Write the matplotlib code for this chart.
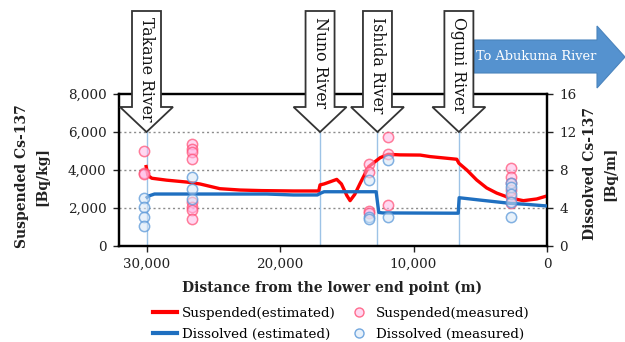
import matplotlib
matplotlib.use("Agg")
import matplotlib.pyplot as plt
from matplotlib.patches import Polygon
from matplotlib.lines import Line2D
import numpy as np

# ---------------- data ----------------
# Suspended Cs-137 estimated (distance m, Bq/kg)
susp_est_x = [30050, 29900, 29600, 28500, 27000, 26000, 25400, 24500, 23000, 21400, 19000, 17100,
              17000, 16700, 16300, 15750, 15400, 15000, 14750, 14400, 14000, 13360, 12500, 11900,
              11000, 9500, 8760, 6760, 6600, 6000, 5270, 4520, 3770, 2770, 1770, 770, 0]
susp_est_y = [4250, 3700, 3550, 3450, 3350, 3250, 3150, 3000, 2930, 2900, 2880, 2880,
              3200, 3250, 3350, 3490, 3250, 2650, 2370, 2700, 3280, 4160, 4630, 4810,
              4780, 4770, 4690, 4550, 4340, 3980, 3460, 3040, 2770, 2510, 2370, 2460, 2620]

# Dissolved Cs-137 estimated (distance m, right-axis units)
diss_est_x = [30050, 29800, 29400, 26500, 21000, 19000, 17200, 17000, 16700, 12800, 12600, 12300,
              6650, 6580, 5000, 2770, 1500, 0]
diss_est_y = [4.98, 5.25, 5.44, 5.44, 5.44, 5.34, 5.34, 5.5, 5.68, 5.68, 3.5, 3.45,
              3.42, 5.05, 4.8, 4.46, 4.35, 4.18]

# measured values
susp_meas_x = [30200, 30200, 30200,
               26570, 26570, 26570, 26570, 26570, 26570, 26570, 26570,
               13360, 13360, 13360, 13360,
               11900, 11900, 11900,
               2700, 2700, 2700, 2700, 2700, 2700]
susp_meas_y = [5000, 3850, 3750,
               5340, 5090, 4910, 4560, 2320, 2020, 1880, 1390,
               4320, 3900, 1840, 1700,
               5700, 4810, 2140,
               4070, 3630, 3280, 2930, 2580, 2230]

diss_meas_x = [30200, 30200, 30200, 30200,
               26570, 26570, 26570,
               13360, 13360, 13360,
               11900, 11900,
               2700, 2700, 2700, 2700, 2700]
diss_meas_y = [4.98, 4.04, 3.02, 2.08,
               7.2, 6.0, 4.9,
               6.9, 3.0, 2.8,
               9.0, 3.0,
               6.6, 6.2, 5.4, 4.6, 3.0]

tributaries = ["Takane River", "Nuno River", "Ishida River", "Oguni River"]
trib_x = [30000, 17000, 12700, 6600]

left_ticks = [0, 2000, 4000, 6000, 8000]
left_ticklabels = ["0", "2,000", "4,000", "6,000", "8,000"]
right_ticks = [0, 4, 8, 12, 16]
x_ticks = [30000, 20000, 10000, 0]
x_ticklabels = ["30,000", "20,000", "10,000", "0"]

# ---------------- figure ----------------
SERIF = "DejaVu Serif"
plt.rcParams['font.family'] = SERIF
W, H = 625, 342
fig = plt.figure(figsize=(W / 100, H / 100), dpi=100)

x0, x1 = 119, 547
y_top, y_bot = 93.7, 245.7
ax = fig.add_axes([x0 / W, 1 - y_bot / H, (x1 - x0) / W, (y_bot - y_top) / H])
ax2 = ax.twinx()

ax.set_xlim(32060, 0)
ax.set_ylim(0, 8000)
ax2.set_ylim(0, 16)

for s in ax.spines.values():
    s.set_linewidth(1.6)
    s.set_color("black")
for s in ax2.spines.values():
    s.set_linewidth(1.6)

ax.set_yticks(left_ticks)
ax.set_yticklabels(left_ticklabels)
ax.set_xticks(x_ticks)
ax.set_xticklabels(x_ticklabels)
ax2.set_yticks(right_ticks)
ax.tick_params(axis='both', direction='out', length=4, width=1, labelsize=9.7, colors='#222222', pad=5)
ax2.tick_params(axis='y', direction='out', length=4, width=1, labelsize=9.7, colors='#222222', pad=5)

for g in [2000, 4000, 6000]:
    ax.axhline(g, color='#8c8c8c', lw=1.0, ls=(0, (1.5, 2)), zorder=1)

for tx in trib_x:
    ax.axvline(tx, color='#9dc3e6', lw=1.0, zorder=1)

ax.plot(susp_est_x, susp_est_y, color='#ff0000', lw=2.4, zorder=3, solid_capstyle='butt')
ax2.plot(diss_est_x, diss_est_y, color='#1f6fc0', lw=2.4, zorder=3, solid_capstyle='butt')

ax.scatter(susp_meas_x, susp_meas_y, s=55, facecolor=(1.0, 0.72, 0.9, 0.55),
           edgecolor=(1.0, 0.3, 0.45, 0.7), linewidth=1.1, zorder=4)
ax2.scatter(diss_meas_x, diss_meas_y, s=55, facecolor=(0.84, 0.9, 0.97, 0.55),
            edgecolor=(0.36, 0.6, 0.85, 0.75), linewidth=1.1, zorder=4)
ax.set_zorder(1)
ax2.set_zorder(2)
ax2.patch.set_visible(False)

# axis labels
fig.text(332 / W, 1 - 288 / H, "Distance from the lower end point (m)", ha='center', va='center',
         fontsize=10, fontweight='bold', color='#222222')
fig.text(22 / W, 1 - 176 / H, "Suspended Cs-137", rotation=90, ha='center', va='center',
         fontsize=10, fontweight='bold', color='#222222')
fig.text(42 / W, 1 - 176 / H, "[Bq/kg]", rotation=90, ha='center', va='center',
         fontsize=10, fontweight='bold', color='#222222')
fig.text(590 / W, 1 - 174 / H, "Dissolved Cs-137", rotation=90, ha='center', va='center',
         fontsize=10, fontweight='bold', color='#222222')
fig.text(610 / W, 1 - 174 / H, "[Bq/m]", rotation=90, ha='center', va='center',
         fontsize=10, fontweight='bold', color='#222222')

# tributary arrows (pixel geometry, positioned from data x)
inv = fig.transFigure.inverted()
for name, tx in zip(tributaries, trib_x):
    px = ax.transData.transform((tx, 0))[0]
    top, shaft_bot, tip = H - 11, H - 107, H - 132
    sw, hw = 14.5, 26.5
    pts = [(px - sw, top), (px + sw, top), (px + sw, shaft_bot), (px + hw, shaft_bot),
           (px, tip), (px - hw, shaft_bot), (px - sw, shaft_bot)]
    pts_f = inv.transform(pts)
    fig.add_artist(Polygon(pts_f, closed=True, facecolor='white', edgecolor='#333333',
                           lw=1.3, transform=fig.transFigure, zorder=10))
    fig.text(px / W, (H - 17) / H, name, rotation=-90, ha='center', va='top',
             fontsize=11.3, color='#111111', zorder=11)

# "To Abukuma River" arrow
bpts = [(474, 40), (597, 40), (597, 26), (625, 57), (597, 88), (597, 73), (474, 73)]
bpts_f = [(x / W, 1 - y / H) for x, y in bpts]
fig.add_artist(Polygon(bpts_f, closed=True, facecolor='#5592cf', edgecolor='#4a84bd',
                       lw=0.8, transform=fig.transFigure, zorder=9))
fig.text(536 / W, 1 - 57 / H, "To Abukuma River", ha='center', va='center', fontsize=9.3,
         color='white', zorder=12)

# legend
handles = [Line2D([], [], color='#ff0000', lw=3),
           Line2D([], [], color='#1f6fc0', lw=3),
           Line2D([], [], ls='none', marker='o', markersize=6.5, markerfacecolor=(1.0, 0.72, 0.9, 0.55),
                  markeredgecolor=(1.0, 0.3, 0.45, 0.8)),
           Line2D([], [], ls='none', marker='o', markersize=6.5, markerfacecolor=(0.84, 0.9, 0.97, 0.55),
                  markeredgecolor=(0.36, 0.6, 0.85, 0.85))]
labels = ["Suspended(estimated)", "Dissolved (estimated)", "Suspended(measured)", "Dissolved (measured)"]
fig.legend(handles, labels, ncol=2, loc='upper left', bbox_to_anchor=(153 / W, 1 - 307 / H),
           frameon=False, fontsize=9.7, handlelength=1.8, handletextpad=0.35, columnspacing=0.8,
           labelspacing=0.6, borderpad=0, borderaxespad=0)

fig.savefig("out.png", dpi=100)
